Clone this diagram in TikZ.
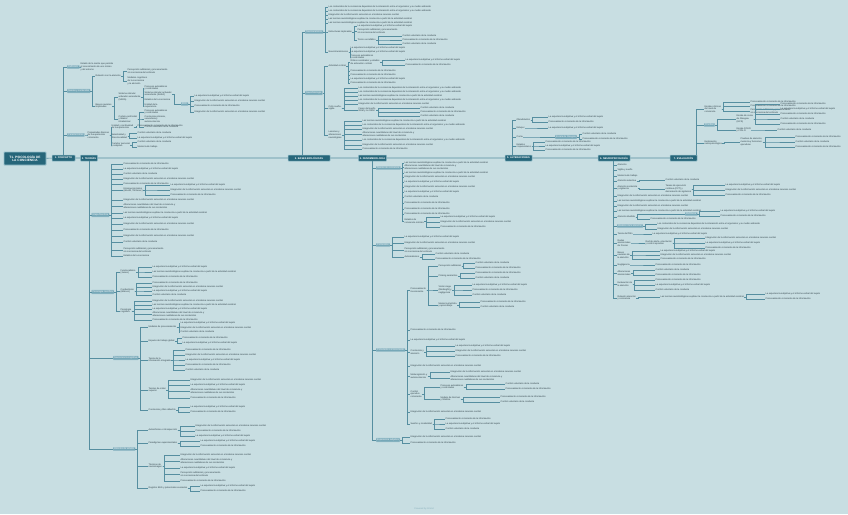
\documentclass[tikz,border=0pt]{standalone}
\usepackage{fontspec}
\setmainfont{Liberation Sans}
\definecolor{bgc}{RGB}{200,222,226}
\definecolor{mainc}{RGB}{38,102,122}
\definecolor{mainbd}{RGB}{150,192,204}
\definecolor{subc}{RGB}{118,168,184}
\definecolor{conc}{RGB}{86,142,160}
\definecolor{leafc}{RGB}{45,62,70}
\newcommand\lffont{\fontsize{2.3}{2.75}\selectfont}
\newcommand\mnfont{\fontsize{2.5}{3}\selectfont\bfseries}
\newcommand\rtfont{\fontsize{3.2}{3.8}\selectfont\bfseries}
\newcommand\ph[1]{\csname phr#1\endcsname}
\expandafter\def\csname phr1\endcsname{Vigilia y sueño}
\expandafter\def\csname phr2\endcsname{Estados de la conciencia}
\expandafter\def\csname phr3\endcsname{Control voluntario de la conducta}
\expandafter\def\csname phr4\endcsname{Procesamiento consciente de la información}
\expandafter\def\csname phr5\endcsname{La experiencia subjetiva y el informe verbal del sujeto}
\expandafter\def\csname phr6\endcsname{Integración de la información sensorial en el sistema nervioso central}
\expandafter\def\csname phr7\endcsname{Las teorías neurobiológicas explican la conciencia a partir de la actividad cerebral}
\expandafter\def\csname phr8\endcsname{Los contenidos de la conciencia dependen de la interacción entre el organismo y su medio ambiente}
\expandafter\def\csname phr9\endcsname{Procesos automáticos\\y controlados}
\expandafter\def\csname phr10\endcsname{Sistema reticular activador\\ascendente (SARA)}
\expandafter\def\csname phr11\endcsname{Conciencia primaria,\\secundaria y\\autoconciencia}
\expandafter\def\csname phr12\endcsname{Percepción subliminal y procesamiento\\sin conciencia del estímulo}
\expandafter\def\csname phr13\endcsname{Alteraciones cuantitativas del nivel de conciencia y\\alteraciones cualitativas de sus contenidos}
\expandafter\def\csname phr14\endcsname{Atención}
\expandafter\def\csname phr15\endcsname{Memoria de trabajo}
\expandafter\def\csname phr16\endcsname{Estado de la mente que permite\\el conocimiento de uno mismo\\y del entorno}
\expandafter\def\csname phr17\endcsname{Unidad de la\\experiencia}
\expandafter\def\csname phr18\endcsname{Modelos cognitivos\\de la conciencia\\y la atención}
\tikzset{
  con/.style={draw=conc,line width=0.35pt},
  spine/.style={draw=conc,line width=0.6pt},
  mainnode/.style={fill=mainc,draw=mainbd,line width=0.5pt,text=white,font=\mnfont,inner xsep=1.5pt,inner ysep=0pt,minimum height=6pt,rounded corners=0.5pt},
  subnode/.style={anchor=west,fill=subc,draw=subc!70!white,line width=0.3pt,text=white,font=\lffont,inner xsep=1pt,inner ysep=0.8pt,rounded corners=0.4pt},
  leaf/.style={anchor=west,font=\lffont,text=leafc,inner sep=0.4pt,align=left}
}
\newcommand\cn[2]{\draw[con] (#1.east) -- ++(2,0) |- (#2.west);}
\newcommand\cu[3]{\draw[con] ([xshift=#3]#1.north) |- (#2.west);}
\newcommand\cd[3]{\draw[con] ([xshift=#3]#1.south) |- (#2.west);}
\newcommand\kids[3]{\foreach \yy/\kk in {#3}{\node[leaf] (kd) at (#2,\yy) {\ph{\kk}}; \draw[con] (#1.east) -- ++(2,0) |- (kd.west);}}
\newcommand\dkids[3]{\foreach \yy/\kk in {#3}{\node[leaf] (kd) at (#2,\yy) {\ph{\kk}}; \draw[con] ([xshift=-1]#1.south) |- (kd.west);}}
\begin{document}
\begin{tikzpicture}[x=1pt,y=-1pt]
\fill[bgc] (0,0) rectangle (848,514);
\useasboundingbox (0,0) rectangle (848,514);
% root and main nodes
\node[mainnode,font=\rtfont,minimum width=42,minimum height=13,align=center,line width=0.8pt] (R) at (25,158.5) {T1. PSICOLOGÍA DE\\LA CONCIENCIA};
\node[mainnode,minimum width=23] (A) at (63.5,158) {1. CONCEPTO};
\node[mainnode,minimum width=13] (B) at (89,158) {2. TEORÍAS};
\node[mainnode,minimum width=42] (C) at (309,158) {3. BASES BIOLÓGICAS};
\node[mainnode,minimum width=25] (D) at (372.5,158) {4. FENOMENOLOGÍA};
\node[mainnode,minimum width=27] (E) at (518.5,158) {5. ALTERACIONES};
\node[mainnode,minimum width=32] (F) at (614,158) {6. NEUROPSICOLOGÍA};
\node[mainnode,minimum width=27] (G) at (683.5,158) {7. EVALUACIÓN};
\draw[spine] (R) -- (A) -- (B) -- (C) -- (D) -- (E) -- (F) -- (G);

% ===== A (up)
\node[subnode] (A1) at (67,67) {Definición};
\node[subnode] (A2) at (67,91) {Niveles y contenidos};
\node[subnode] (A3) at (67,135) {Características};
\cu{A}{A1}{0} \cu{A}{A2}{0} \cu{A}{A3}{0}
\kids{A1}{80}{67/16}
\node[leaf] (A2a) at (95,76) {Relación con la atención}; \cn{A2}{A2a}
\kids{A2a}{127}{71/12,81/18}
\node[leaf] (A2b) at (95,106) {Bases neurales\\implicadas}; \cn{A2}{A2b}
\node[leaf] (A2b1) at (118,97) {Sistema reticular\\activador ascendente\\(SARA)}; \cn{A2b}{A2b1}
\node[leaf] (A2b2) at (118,119) {Corteza prefrontal\\y tálamo\\intralaminar}; \cn{A2b}{A2b2}
\kids{A2b1}{144}{88/9,100/2,106/17}
\node[leaf] (A2b1b) at (144,94) {\ph{10}}; \cn{A2b1}{A2b1b}
\kids{A2b2}{144}{112/9,119/11,127/3}
\node[subnode] (A2d) at (181,104) {EEG}; \cn{A2b1b}{A2d}
\kids{A2d}{194}{96/5,101/6,106/4,112/6}
\node[leaf] (A3a) at (87,135) {Propiedades básicas\\de la experiencia\\consciente}; \cn{A3}{A3a}
\node[leaf] (A3a1) at (111,127) {Unidad y continuidad\\de la experiencia}; \cn{A3a}{A3a1}
\node[leaf] (A3a2) at (111,136) {Selectividad y\\direccionalidad}; \cn{A3a}{A3a2}
\node[leaf] (A3a3) at (111,145) {Carácter personal\\y subjetivo}; \cn{A3a}{A3a3}
\kids{A3a1}{137}{126/4}
\kids{A3a2}{137}{133/3,138/5}
\kids{A3a3}{137}{142/3,147/15}

% ===== B (down)
\node[subnode] (B1) at (91.5,215) {Etapa filosófica};
\node[subnode] (B2) at (91.5,292) {Psicología científica};
\node[subnode] (B3) at (113,358) {Neurociencia cognitiva};
\node[subnode] (B4) at (113,449) {Métodos de estudio};
\cd{B}{B1}{0} \cd{B}{B2}{0} \cd{B}{B3}{0} \cd{B}{B4}{0}
\kids{B1}{123}{164/4,169/5,174/3,179/6,184/4,200/6,206/13,213/7,218/5,224/6,230/4,236/6,242/3,250/12,256/2}
\node[leaf] (B1a) at (123,190) {Introspeccionismo\\(Wundt, Titchener)}; \cn{B1}{B1a}
\kids{B1a}{170}{185/5,190/6,195/4}
\node[leaf] (B2a) at (120,272) {Funcionalismo\\(James)}; \cn{B2}{B2a}
\node[leaf] (B2b) at (120,291) {Conductismo\\(Watson)}; \cn{B2}{B2b}
\node[leaf] (B2c) at (120,311) {Psicología\\cognitiva}; \cn{B2}{B2c}
\kids{B2a}{152}{267/5,272/7,277/4}
\kids{B2b}{152}{283/4,287/6,291/5,295/3}
\kids{B2c}{152}{301/6,305/7,309/5,314/13,320/4}
\node[leaf] (B3a) at (148,327) {Modelos de procesamiento}; \cn{B3}{B3a}
\node[leaf] (B3b) at (148,341) {Espacio de trabajo global}; \cn{B3}{B3b}
\node[leaf] (B3c) at (148,360) {Teoría de la\\información integrada}; \cn{B3}{B3c}
\node[leaf] (B3d) at (148,390) {Teorías de orden\\superior}; \cn{B3}{B3d}
\node[leaf] (B3e) at (148,410) {Conciencia y libre albedrío}; \cn{B3}{B3e}
\kids{B3a}{180}{323/5,328/6,332/3}
\kids{B3b}{182}{338/4,343/5}
\kids{B3c}{185}{350/4,355/6,360/5,365/4,370/3}
\kids{B3d}{190}{380/6,385/5,391/13,398/4}
\kids{B3e}{190}{407/5,412/4}
\node[leaf] (B4a) at (148,430) {Autoinforme e introspección}; \cn{B4}{B4a}
\node[leaf] (B4b) at (148,443) {Paradigmas experimentales}; \cn{B4}{B4b}
\node[leaf] (B4c) at (148,466) {Técnicas de\\neuroimagen}; \cn{B4}{B4c}
\node[leaf] (B4d) at (148,488) {Registro EEG y potenciales evocados}; \cn{B4}{B4d}
\kids{B4a}{195}{426/6,431/4,436/5}
\kids{B4b}{200}{441/5,446/4}
\kids{B4c}{180}{455/6,461/13,468/5,474/12,481/4}
\kids{B4d}{200}{486/5,491/4}

% ===== C (up)
\node[subnode] (C1) at (305,32) {Neuroanatomía};
\node[subnode] (C2) at (305,93) {Neurofisiología};
\cu{C}{C1}{-7} \cu{C}{C2}{-7}
\kids{C1}{328}{7/8,11/8,15/6,19/7,23/7}
\node[leaf] (C1a) at (328,32) {Estructuras implicadas}; \cn{C1}{C1a}
\kids{C1a}{357}{26/5,31/12}
\node[leaf] (C1a3) at (357,40) {Tronco encefálico}; \cn{C1a}{C1a3}
\kids{C1a3}{402}{36/3,40/4,44/3}
\node[leaf] (C1b) at (328,52) {Neurotransmisores}; \cn{C1}{C1b}
\kids{C1b}{350}{48/5,52/5,57/9}
\node[leaf] (C2a) at (328,66) {Actividad cortical}; \cn{C2}{C2a}
\node[leaf] (C2a1) at (350,62) {Ritmos cerebrales y estados\\de activación cortical}; \cn{C2a}{C2a1}
\kids{C2a1}{405}{60/5,65/4}
\kids{C2a}{350}{71/4,75/4,79/5,83/4}
\node[leaf] (C2b) at (328,108) {Ciclo sueño-\\vigilia}; \cn{C2}{C2b}
\kids{C2b}{358}{88/8,92/8,96/7,100/8,104/6}
\node[leaf] (C2b1) at (358,110) {Fases del sueño\\REM y no REM}; \cn{C2b}{C2b1}
\kids{C2b1}{420}{108/3,112/4,116/3}
\node[leaf] (C2c) at (328,135) {Lesiones y\\alteraciones\\neurológicas}; \cn{C2}{C2c}
\kids{C2c}{362}{121/7,125/8,129/6,134/13,140/8,145/6,149/4}

% ===== D (down)
\node[subnode] (D1) at (376,168) {Niveles de conciencia};
\node[subnode] (D2) at (376,245) {Contenidos};
\node[subnode] (D3) at (376,350) {Consciente e inconsciente};
\node[subnode] (D4) at (376,440) {Experiencia subjetiva};
\cd{D}{D1}{-0.5} \cd{D}{D2}{-0.5} \cd{D}{D3}{-0.5} \cd{D}{D4}{-0.5}
\kids{D1}{404}{163/7,167/13,173/7,177/6,182/5,187/6,192/5,197/3,203/4,209/4,214/4}
\node[leaf] (D1a) at (404,221) {Estados de\\conciencia mínima}; \cn{D1}{D1a}
\kids{D1a}{440}{217/5,222/6,227/4}
\kids{D2}{404}{237/5,243/6,250/12}
\node[leaf] (D2a) at (404,257) {Automatismos}; \cn{D2}{D2a}
\kids{D2a}{435}{254/3,259/4}
\node[leaf] (D3a) at (410,290) {Procesamiento\\inconsciente}; \cn{D3}{D3a}
\node[leaf] (D3a1) at (438,266) {Percepción subliminal}; \cn{D3a}{D3a1}
\node[leaf] (D3a2) at (438,276) {Priming semántico}; \cn{D3a}{D3a2}
\node[leaf] (D3a3) at (438,290) {Visión ciega\\(blindsight) y\\negligencia}; \cn{D3a}{D3a3}
\node[leaf] (D3a4) at (438,305) {Memoria implícita\\y aprendizaje}; \cn{D3a}{D3a4}
\kids{D3a1}{475}{263/3,268/4}
\kids{D3a2}{475}{273/4,278/3}
\kids{D3a3}{472}{285/5,290/4,295/3}
\kids{D3a4}{480}{302/4,307/3}
\kids{D3}{410}{330/4,340/5,366/6,412/6}
\node[leaf] (D3b) at (410,352) {Conciencia y\\atención}; \cn{D3}{D3b}
\kids{D3b}{455}{346/5,351/6,356/4}
\node[leaf] (D3c) at (410,376) {Metacognición y\\autoconciencia}; \cn{D3}{D3c}
\kids{D3c}{450}{372/6,378/13}
\node[leaf] (D3d) at (410,394) {Control\\ejecutivo\\consciente}; \cn{D3}{D3d}
\node[leaf] (D3d1) at (440,387) {Procesos automáticos\\y controlados}; \cn{D3d}{D3d1}
\node[leaf] (D3d2) at (440,399) {Modelo de Norman\\y Shallice}; \cn{D3d}{D3d2}
\kids{D3d1}{505}{384/3,389/4}
\kids{D3d2}{500}{397/4,402/3}
\node[leaf] (D3e) at (410,424) {Sueños y creatividad}; \cn{D3}{D3e}
\kids{D3e}{445}{419/4,424/5,429/3}
\kids{D4}{410}{437/6,443/4}

% ===== E (up)
\node[leaf] (E1) at (516,120) {Obnubilación};
\node[leaf] (E2) at (516,128) {Estupor};
\node[leaf] (E3) at (516,137) {Coma};
\node[leaf] (E4) at (516,146) {Estados\\crepusculares};
\cu{E}{E1}{-6.5} \cu{E}{E2}{-6.5} \cu{E}{E3}{-6.5} \cu{E}{E4}{-6.5}
\kids{E1}{548}{117/5,122/4}
\kids{E2}{548}{128/5}
\node[subnode] (E3a) at (555,137) {Escala de Glasgow}; \cn{E3}{E3a}
\kids{E3a}{582}{134/3,139/4}
\kids{E4}{545}{142/4,146/5,150/4}

% ===== F (down)
\dkids{F}{617}{165/14,170/1,176/15,196/6,201/7,206/6,211/7}
\node[leaf] (F4) at (617,181) {Atención selectiva}; \cd{F}{F4}{-1}
\kids{F4}{665}{180/3}
\node[leaf] (F5) at (617,188) {Atención sostenida\\y vigilancia}; \cd{F}{F5}{-1}
\node[leaf] (F5a) at (665,189) {Tareas de ejecución\\continua (CPT) y\\decremento de vigilancia}; \cn{F5}{F5a}
\kids{F5a}{725}{185/5,190/6,195/4}
\node[leaf] (F6) at (617,217) {Atención dividida}; \cd{F}{F6}{-1}
\node[subnode] (F6a) at (685,214) {Multitarea}; \cn{F6}{F6a}
\kids{F6a}{720}{211/5,216/4}
\kids{F6}{650}{219/4}
\node[subnode] (F7) at (617,226) {Modelos de la atención}; \cd{F}{F7}{-1}
\kids{F7}{657}{224/8,229/6}
\node[leaf] (F8) at (617,234) {Teoría del filtro}; \cd{F}{F8}{-1}
\kids{F8}{652}{234/5}
\node[leaf] (F9) at (617,243) {Redes\\atencionales\\de Posner}; \cd{F}{F9}{-1}
\node[leaf] (F9a) at (645,243) {Red de alerta, orientación\\y control ejecutivo}; \cn{F9}{F9a}
\kids{F9a}{705}{238/6,243/5,248/4}
\node[leaf] (F10) at (617,255) {Bases\\neurales de\\la atención}; \cd{F}{F10}{-1}
\kids{F10}{660}{251/5,255/6,259/4}
\node[leaf] (F11) at (617,265) {Negligencia}; \cd{F}{F11}{-1}
\kids{F11}{655}{265/4}
\node[leaf] (F12) at (617,273) {Alteraciones\\atencionales}; \cd{F}{F12}{-1}
\kids{F12}{655}{270/3,275/4}
\node[leaf] (F13) at (617,284) {Evaluación de\\la atención}; \cd{F}{F13}{-1}
\kids{F13}{655}{280/4,285/5,290/3}
\node[leaf] (F14) at (617,298) {Relación atención\\y conciencia}; \cd{F}{F14}{-1}
\node[leaf] (F14a) at (660,297) {\ph{7}}; \cn{F14}{F14a}
\kids{F14a}{765}{294/5,299/4}

% ===== G (up)
\node[leaf] (G1) at (704,109) {Escalas clínicas\\del nivel de\\conciencia};
\node[subnode] (G2) at (704,125) {Pruebas};
\node[leaf] (G3) at (704,143) {Exploración\\neuropsicológica};
\cu{G}{G1}{13} \cu{G}{G2}{13} \cu{G}{G3}{13}
\kids{G1}{750}{102/4,106/4,111/12}
\node[leaf] (G2a) at (736,119) {Escala de coma\\de Glasgow\\(GCS)}; \cn{G2}{G2a}
\kids{G2a}{780}{104/4,109/5,114/4,119/3,124/4}
\node[leaf] (G2b) at (736,130) {Escala FOUR\\y CRS-R}; \cn{G2}{G2b}
\kids{G2b}{777}{130/3}
\node[leaf] (G3a) at (740,142) {Pruebas de atención,\\memoria y funciones\\ejecutivas}; \cn{G3}{G3a}
\kids{G3a}{795}{137/4,142/3,147/4}

% footer
\node[font=\lffont,text=conc!70!white] (ft) at (424,509) {Powered by Xmind};
\end{tikzpicture}
\end{document}
